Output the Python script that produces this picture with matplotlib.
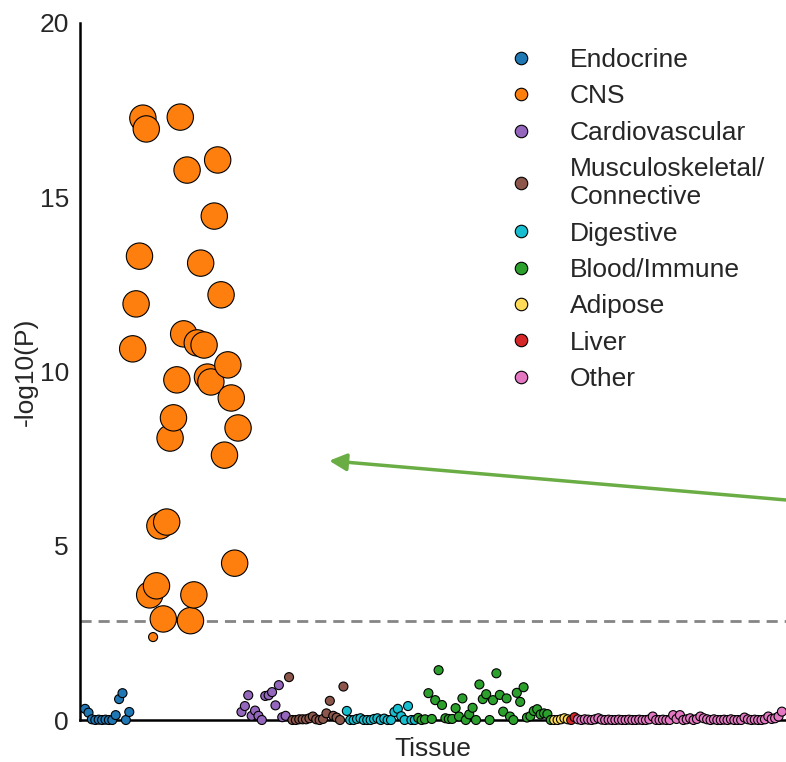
import numpy as np
import matplotlib
matplotlib.use("Agg")
from matplotlib import pyplot as plt
from matplotlib.lines import Line2D

# -log10(P) per tissue, in plotting order along the x axis
endocrine = [0.32, 0.21, 0.02, 0.0, 0.01, 0.0, 0.01, 0.0, 0.0, 0.14, 0.6, 0.77, 0.0, 0.23]
cns = [10.65, 11.94, 13.31, 17.27, 16.96, 3.59, 2.38, 3.85, 5.57, 2.90, 5.68,
       8.09, 8.67, 9.76, 17.30, 11.08, 15.78, 2.85, 3.59, 10.82, 13.11, 10.76,
       9.84, 9.70, 14.46, 16.07, 12.20, 7.60, 10.19, 9.24, 4.50, 8.38]
cardiovascular = [0.23, 0.40, 0.71, 0.12, 0.27, 0.12, 0.0, 0.69, 0.71, 0.80,
                  0.42, 1.0, 0.08, 0.12]
musculoskeletal = [1.23, 0.0, 0.0, 0.02, 0.02, 0.02, 0.05, 0.10, 0.02, 0.0,
                   0.03, 0.19, 0.55, 0.12, 0.07, 0.0, 0.96]
digestive = [0.26, 0.0, 0.0, 0.03, 0.05, 0.0, 0.0, 0.0, 0.03, 0.05, 0.0, 0.04,
             0.0, 0.0, 0.23, 0.32, 0.11, 0.0, 0.40, 0.0, 0.0]
blood_immune = [0.06, 0.0, 0.02, 0.77, 0.03, 0.57, 1.43, 0.43, 0.05, 0.03,
                0.03, 0.34, 0.10, 0.62, 0.0, 0.16, 0.35, 0.0, 1.02, 0.60,
                0.74, 0.0, 0.57, 1.34, 0.72, 0.24, 0.62, 0.10, 0.0, 0.78,
                0.52, 0.94, 0.07, 0.11, 0.26, 0.31, 0.16, 0.19, 0.17, 0.0]
adipose = [0.0, 0.0, 0.02, 0.05, 0.02]
liver = [0.0, 0.08]
other = [0.02, 0.0, 0.02, 0.01, 0.0, 0.02, 0.05, 0.01, 0.0, 0.01, 0.0, 0.0,
         0.01, 0.0, 0.0, 0.01, 0.0, 0.0, 0.01, 0.0, 0.0, 0.02, 0.10, 0.0,
         0.0, 0.01, 0.0, 0.0, 0.14, 0.03, 0.14, 0.0, 0.02, 0.05, 0.0, 0.03,
         0.10, 0.05, 0.02, 0.0, 0.02, 0.0, 0.0, 0.01, 0.0, 0.02, 0.0, 0.0,
         0.0, 0.07, 0.02, 0.0, 0.01, 0.0, 0.0, 0.02, 0.10, 0.03, 0.05, 0.10,
         0.24]

tissue_names = ["Endocrine", "CNS", "Cardiovascular",
                "Musculoskeletal/\nConnective", "Digestive", "Blood/Immune",
                "Adipose", "Liver", "Other"]
tissue_values = [endocrine, cns, cardiovascular, musculoskeletal, digestive,
                 blood_immune, adipose, liver, other]
tissue_colors = ["#1f77b4", "#ff7f0e", "#9467bd", "#8c564b", "#17becf",
                 "#2ca02c", "#ffdb58", "#d62728", "#e377c2"]

threshold = 2.83


def main():
    plt.rcParams["font.family"] = ["Liberation Sans", "DejaVu Sans"]
    plt.rcParams["text.color"] = "0.15"
    plt.rcParams["ytick.color"] = "0.15"
    plt.rcParams["axes.labelcolor"] = "0.15"
    fig = plt.figure(figsize=(7.86, 7.62), dpi=100)
    ax = fig.add_axes([80 / 786, 42 / 762, 706 / 786, 697 / 762])

    start = 0
    handles = []
    for name, vals, color in zip(tissue_names, tissue_values, tissue_colors):
        vals = np.array(vals)
        x = np.arange(start, start + len(vals))
        sizes = np.where(vals > threshold, 360, 42)
        ax.scatter(x, vals, s=sizes, c=color, edgecolors="black",
                   linewidths=0.8, zorder=3, clip_on=False)
        handles.append(Line2D([], [], ls="none", marker="o", markersize=9,
                              markerfacecolor=color, markeredgecolor="black",
                              markeredgewidth=0.8, label=name))
        start += len(vals)

    ax.axhline(threshold, color="#858585", lw=2, ls=(0, (4, 2.5)), zorder=1)

    ax.annotate("", xy=(71.8, 7.44), xytext=(215, 6.24),
                arrowprops=dict(arrowstyle="-|>", color="#6aad45", lw=2.5,
                                mutation_scale=26, shrinkA=0, shrinkB=0),
                annotation_clip=False)

    ax.set_xlim(-1.5, 206.2)
    ax.set_ylim(0, 20)
    ax.set_yticks([0, 5, 10, 15, 20])
    ax.set_xticks([])
    ax.tick_params(axis="y", length=0, pad=8, labelsize=19)
    for side in ["top", "right"]:
        ax.spines[side].set_visible(False)
    for side in ["left", "bottom"]:
        ax.spines[side].set_linewidth(1.8)
        ax.spines[side].set_color("black")
    ax.set_xlabel("Tissue", fontsize=19, labelpad=12)
    ax.set_ylabel("-log10(P)", fontsize=19, labelpad=1)

    ax.legend(handles=handles, loc="upper left", bbox_to_anchor=(0.606, 0.964),
              frameon=False, fontsize=19, labelspacing=0.47,
              handlelength=1.0, handletextpad=1.36, borderpad=0,
              borderaxespad=0)

    fig.savefig("out.png", dpi=100)


if __name__ == "__main__":
    main()
